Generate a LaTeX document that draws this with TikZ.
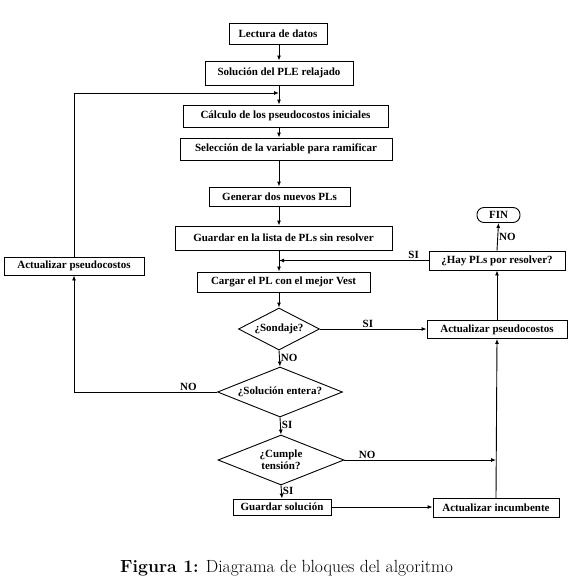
\documentclass[tikz,border=0pt]{standalone}
\usepackage{fontspec}
\newfontfamily\boxfont{Liberation Serif}
\usetikzlibrary{arrows.meta,shapes.geometric}
\tikzset{
  blk/.style={draw, line width=0.9pt, inner sep=0pt, font=\boxfont\bfseries\fontsize{11}{12}\selectfont, align=center},
  dia/.style={draw, line width=0.9pt, diamond, inner sep=0pt, aspect=2.5, font=\boxfont\bfseries\fontsize{11}{12}\selectfont, align=center},
  arr/.style={line width=0.9pt, -{Latex[length=5pt,width=4pt]}},
  lbl/.style={font=\boxfont\bfseries\fontsize{11}{12}\selectfont, inner sep=1pt}
}
\begin{document}
\begin{tikzpicture}[x=1pt,y=-1pt]
\useasboundingbox (0,0) rectangle (574,582);
\coordinate (mx) at (279,0);
% main column
\node[blk, minimum width=98pt, minimum height=21pt] (lect) at (278,33.5) {Lectura de datos};
\node[blk, minimum width=148pt, minimum height=24pt] (sol) at (279,73) {Soluci\'on del PLE relajado};
\node[blk, minimum width=205pt, minimum height=22pt] (calc) at (285.5,116) {C\'alculo de los pseudocostos iniciales};
\node[blk, minimum width=212pt, minimum height=22pt] (sel) at (286,149) {Selecci\'on de la variable para ramificar};
\node[blk, minimum width=141pt, minimum height=19pt] (gen) at (279.5,196.5) {Generar dos nuevos PLs};
\node[blk, minimum width=217pt, minimum height=24pt] (guar) at (283.5,238) {Guardar en la lista de PLs sin resolver};
\node[blk, minimum width=173pt, minimum height=20pt] (carg) at (283.5,282) {Cargar el PL con el mejor Vest};
\node[dia, minimum width=81pt, minimum height=42pt] (sond) at (279,329) {¿Sondaje?};
\node[dia, minimum width=125pt, minimum height=50pt] (sent) at (280,392) {¿Soluci\'on entera?};
\node[dia, minimum width=126pt, minimum height=50pt] (cump) at (281,460) {¿Cumple\\tensi\'on?};
\node[blk, minimum width=98pt, minimum height=16pt] (gsol) at (282,507) {Guardar soluci\'on};
% right column
\node[blk, minimum width=126pt, minimum height=19pt] (inc) at (496,508) {Actualizar incumbente};
\node[blk, minimum width=140pt, minimum height=18pt] (apr) at (497,329.5) {Actualizar pseudocostos};
\node[blk, minimum width=136pt, minimum height=19pt] (hay) at (497,260.5) {¿Hay PLs por resolver?};
\node[blk, minimum width=43pt, minimum height=15pt, rounded corners=7pt] (fin) at (498.5,215) {FIN};
% left
\node[blk, minimum width=140pt, minimum height=18pt] (apl) at (74,266) {Actualizar pseudocostos};
\coordinate (j1) at (279,93);
% main arrows
\draw[arr] (mx |- lect.south) -- (mx |- sol.north);
\draw[arr] (mx |- sol.south) -- (mx |- calc.north);
\draw[arr] (mx |- calc.south) -- (mx |- sel.north);
\draw[arr] (mx |- sel.south) -- (mx |- gen.north);
\draw[arr] (mx |- gen.south) -- (mx |- guar.north);
\draw[arr] (mx |- guar.south) -- (mx |- carg.north);
\draw[arr] (mx |- carg.south) -- (sond.north);
\draw[arr] (sond.south) -- node[lbl, right, pos=0.45] {NO} (sent.north);
\draw[arr] (sent.south) -- node[lbl, right, pos=0.45] {SI} (cump.north);
\draw[arr] (cump.south) -- node[lbl, right, pos=0.45] {SI} (gsol.north);
% left loop
\draw[arr] (apl.north) |- (j1);
\draw[arr] (sent.west) -| node[lbl, above, pos=0.1] {NO} (apl.south);
% right side
\draw[arr] (sond.east) -- node[lbl, above, pos=0.45] {SI} (sond.east -| apr.west);
\draw[arr] (cump.east) -- node[lbl, above, pos=0.15] {NO} (cump.east -| inc.north);
\draw[arr] (gsol.east) -- (gsol.east -| inc.west);
\draw[arr] (inc.north) -- (apr.south);
\draw[arr] (apr.north) -- (hay.south);
\draw[arr] (hay.north) -- node[lbl, right, pos=0.5] {NO} (fin.south);
\draw[arr] (hay.west) -- node[lbl, above, pos=0.1] {SI} (hay.west -| mx);
% caption
\node (cap) at (286.5,568) {\fontsize{17.6}{20}\selectfont\textbf{Figura 1:} Diagrama de bloques del algoritmo};
\end{tikzpicture}
\end{document}
